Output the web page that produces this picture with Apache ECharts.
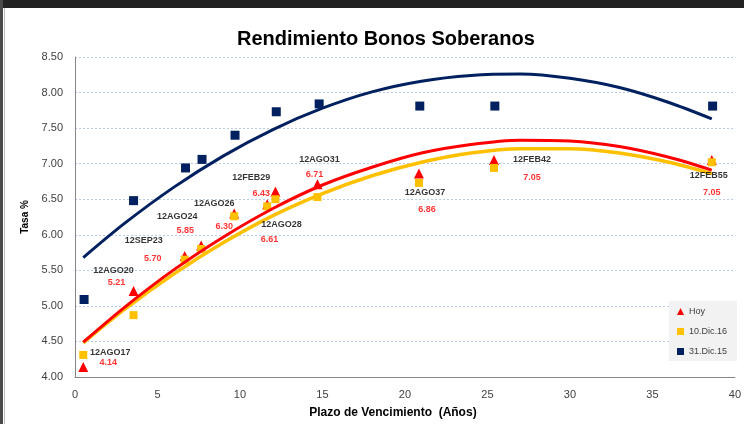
<!DOCTYPE html>
<html lang="es">
<head>
    <meta charset="UTF-8">
    <title>Rendimiento Bonos Soberanos</title>
    <script src="https://cdn.jsdelivr.net/npm/echarts@6/dist/echarts.min.js"></script>
    <style>
        html, body { margin: 0; padding: 0; background: #fff; }
        #chart { width: 744px; height: 424px; }
    </style>
</head>
<body>
<div id="chart"></div>
<script>
    // bonos y plazos (años)
    const bondNames = ['12AGO17', '12AGO20', '12SEP23', '12AGO24', '12AGO26', '12FEB29', '12AGO28', '12AGO31', '12AGO37', '12FEB42', '12FEB55'];
    const maturities = [0.5, 3.55, 6.65, 7.65, 9.65, 11.65, 12.15, 14.7, 20.85, 25.4, 38.6];
    const hoy = [4.14, 5.21, 5.70, 5.85, 6.30, 6.43, 6.61, 6.71, 6.86, 7.05, 7.05];
    const dic16 = [4.31, 4.87, 5.65, 5.80, 6.26, 6.40, 6.50, 6.53, 6.73, 6.94, 7.02];
    const maturities15 = [0.55, 3.55, 6.7, 7.7, 9.7, 12.2, 14.8, 20.9, 25.45, 38.65];
    const dic15 = [5.09, 6.48, 6.94, 7.06, 7.40, 7.73, 7.84, 7.81, 7.81, 7.81];

    // líneas de tendencia
    const trendX = [0.5, 3, 6, 9, 12, 15, 18, 21, 24, 27, 30, 33, 36, 38.6];
    const trendHoy = [4.49, 4.98, 5.51, 5.97, 6.37, 6.70, 6.95, 7.15, 7.27, 7.33, 7.32, 7.24, 7.09, 6.91];
    const trendDic16 = [4.48, 4.95, 5.45, 5.89, 6.27, 6.58, 6.83, 7.02, 7.15, 7.21, 7.21, 7.15, 7.02, 6.86];
    const trendDic15 = [5.68, 6.16, 6.67, 7.11, 7.48, 7.78, 8.01, 8.16, 8.24, 8.26, 8.20, 8.07, 7.86, 7.63];

    // posición de las etiquetas respecto al punto (px)
    const nameOffsets = [[27, -15], [-20, -20], [-41, -16], [-24, -29], [-20, -10], [-16, -27], [6, 33], [2, -25], [6, 19], [38, -1], [-3, 15]];
    const valueOffsets = [[25, -5], [-17, -8], [-32, 2], [-16, -15], [-10, 13], [-6, -11], [-6, 48], [-3, -10], [8, 36], [38, 17], [0, 32]];

    const FONT = '"Liberation Sans", Arial, sans-serif';
    const RED = '#ff0000', GOLD = '#ffc000', NAVY = '#002060';

    const pairs = (xs, ys) => xs.map((x, i) => [x, ys[i]]);

    const chart = echarts.init(document.getElementById('chart'));
    chart.setOption({
        animation: false,
        backgroundColor: '#fff',
        textStyle: { fontFamily: FONT },
        graphic: [
            { type: 'rect', shape: { x: 0, y: 0, width: 744, height: 8 }, style: { fill: '#222' } },
            { type: 'rect', shape: { x: 0, y: 0, width: 3, height: 424 }, style: { fill: '#4a4a4a' } },
            { type: 'line', shape: { x1: 4.5, y1: 8, x2: 4.5, y2: 424 }, style: { stroke: '#bdbdbd', lineWidth: 1 } }
        ],
        title: {
            text: 'Rendimiento Bonos Soberanos',
            left: 232, top: 24,
            textStyle: { fontFamily: FONT, fontSize: 20, fontWeight: 'bold', color: '#000' }
        },
        legend: {
            orient: 'vertical',
            left: 669, top: 301,
            padding: [6, 10, 5, 8],
            backgroundColor: '#f2f2f2',
            itemWidth: 7, itemHeight: 7, itemGap: 11,
            data: ['Hoy', '10.Dic.16', '31.Dic.15'],
            textStyle: { fontFamily: FONT, fontSize: 9, color: '#404040' }
        },
        grid: { left: 75, right: 7, top: 57, bottom: 43 },
        xAxis: {
            type: 'value', min: 0, max: 40, interval: 5,
            name: 'Plazo de Vencimiento  (Años)',
            nameLocation: 'middle', nameGap: 30,
            nameTextStyle: { fontFamily: FONT, fontSize: 12, fontWeight: 'bold', color: '#000', padding: [0, 24, 0, 0] },
            axisLine: { lineStyle: { color: '#868686' } },
            axisTick: { show: false },
            axisLabel: { fontSize: 11, color: '#404040', margin: 12 },
            splitLine: { show: false }
        },
        yAxis: {
            type: 'value', min: 4, max: 8.5, interval: 0.5,
            name: 'Tasa %',
            nameLocation: 'middle', nameGap: 41,
            nameTextStyle: { fontFamily: FONT, fontSize: 10, fontWeight: 'bold', color: '#000' },
            axisLine: { show: true, lineStyle: { color: '#868686' } },
            axisTick: { show: false },
            axisLabel: { fontSize: 11, color: '#404040', margin: 12, formatter: v => v.toFixed(2) },
            splitLine: { lineStyle: { color: '#b8cbea', type: [2, 2], width: 1 } }
        },
        series: [
            {
                name: 'Hoy', type: 'scatter', symbol: 'triangle', symbolSize: [10, 10],
                itemStyle: { color: RED, opacity: 1 }, data: pairs(maturities, hoy), z: 3
            },
            {
                name: '10.Dic.16', type: 'scatter', symbol: 'rect', symbolSize: 8,
                itemStyle: { color: GOLD, opacity: 1 }, data: pairs(maturities, dic16), z: 3
            },
            {
                name: '31.Dic.15', type: 'scatter', symbol: 'rect', symbolSize: 9,
                itemStyle: { color: NAVY, opacity: 1 }, data: pairs(maturities15, dic15), z: 3
            },
            {
                type: 'line', smooth: 0.3, symbol: 'none', silent: true, z: 4,
                lineStyle: { color: GOLD, width: 3.5 }, data: pairs(trendX, trendDic16)
            },
            {
                type: 'line', smooth: 0.3, symbol: 'none', silent: true, z: 4,
                lineStyle: { color: RED, width: 3 }, data: pairs(trendX, trendHoy)
            },
            {
                type: 'line', smooth: 0.3, symbol: 'none', silent: true, z: 4,
                lineStyle: { color: NAVY, width: 3 }, data: pairs(trendX, trendDic15)
            },
            {
                type: 'scatter', symbolSize: 1, silent: true, z: 10,
                itemStyle: { color: 'rgba(0,0,0,0)' },
                label: {
                    show: true, position: 'inside',
                    formatter: p => bondNames[p.dataIndex],
                    fontFamily: FONT, fontSize: 9, fontWeight: 'bold', color: '#000'
                },
                data: maturities.map((x, i) => ({ value: [x, hoy[i]], label: { offset: nameOffsets[i] } }))
            },
            {
                type: 'scatter', symbolSize: 1, silent: true, z: 10,
                itemStyle: { color: 'rgba(0,0,0,0)' },
                label: {
                    show: true, position: 'inside',
                    formatter: p => hoy[p.dataIndex].toFixed(2),
                    fontFamily: FONT, fontSize: 9, fontWeight: 'bold', color: RED
                },
                data: maturities.map((x, i) => ({ value: [x, hoy[i]], label: { offset: valueOffsets[i] } }))
            }
        ]
    });
</script>
</body>
</html>
